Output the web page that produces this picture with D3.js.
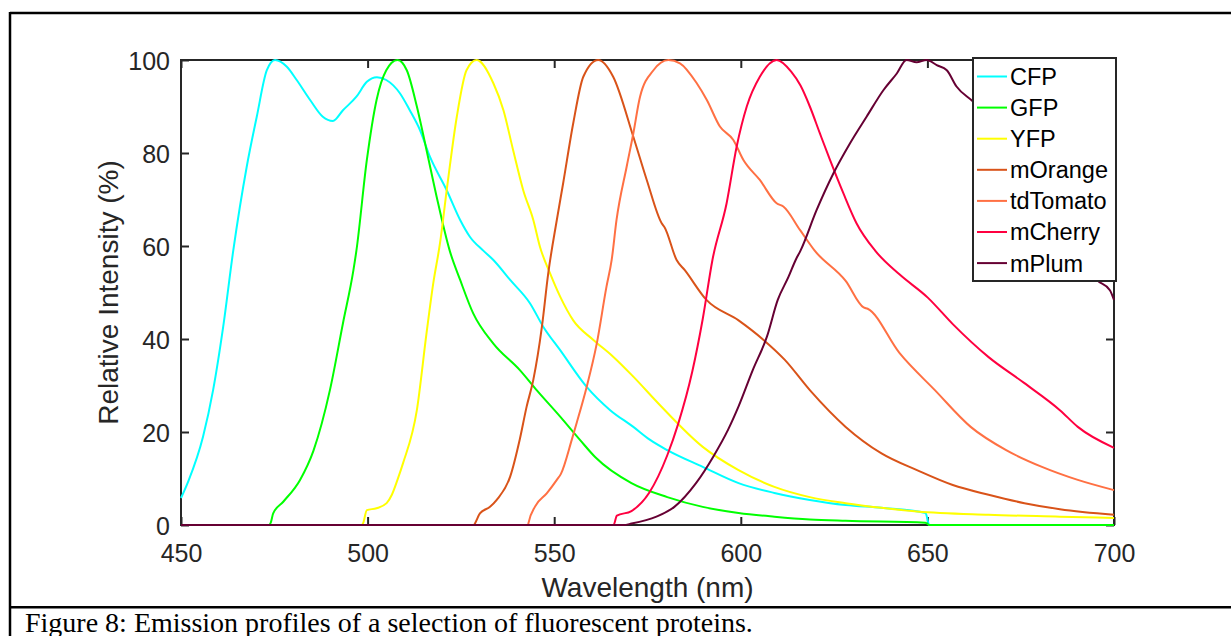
<!DOCTYPE html>
<html>
<head>
<meta charset="utf-8">
<script src="https://cdn.jsdelivr.net/npm/d3@7"></script>
<style>
  html, body { margin: 0; padding: 0; background: #fff; }
  svg { display: block; }
</style>
</head>
<body>
<svg id="chart" width="1231" height="636"></svg>
<script>
// emission spectra, [wavelength nm, relative intensity %]
const cfp = [[450,5.8],[452,9.5],[455.9,19],[458.6,29],[461.3,42.6],[464,59],[467.6,77],[470.3,87.8],[473,97.8],[475.2,100],
  [478.3,98.6],[481,95.7],[484.6,91.4],[488,87.8],[490.7,86.9],[493.4,89.2],[497,92.1],[499.8,95.3],[502.5,96.3],[505,95.7],
  [508.7,92.8],[511.3,89.2],[514,85],[516.7,79.2],[521.2,72],[524.8,65.6],[527.4,62],[531,59],[533.7,57],[538.2,52.7],
  [543.5,47.7],[547.1,42.6],[551.6,37.6],[558.7,29.7],[565,24.7],[571.2,21.1],[575.7,18.3],[580.3,16.1],[589.8,12.5],
  [599.4,9.0],[609,6.9],[618.5,5.4],[628.1,4.3],[637.7,3.7],[649.5,2.6],[650.5,0],[700,0]];
const gfp = [[450,0],[473.5,0],[474,0.4],[474.7,2.5],[477.4,5],[481.9,9.7],[485.5,16],[489.9,29],[493.4,43.4],[496.2,54.8],
  [497,59],[499.8,78.5],[502.4,91.4],[505,97.8],[508,100],[510.5,97.8],[513.2,90],[515.8,80.6],[518.5,70.6],[522,59],
  [524.8,52.7],[528.3,45.5],[533.7,39],[540.8,33.3],[545.3,29],[551.6,23.3],[556.9,18.3],[561.1,14.5],[570.7,9],
  [580.3,6],[589.8,3.9],[599.4,2.6],[609,1.8],[618.5,1.2],[628.1,0.9],[649.5,0.5],[650.5,0],[700,0]];
const yfp = [[450,0],[498.5,0],[498.8,0.4],[499.8,3.2],[502.4,3.6],[505.1,4.7],[506.5,6.5],[508,9.7],[509.5,13.3],[513.2,24.7],
  [515.8,41.3],[517.6,52],[519.4,60.6],[521.2,72],[523.9,87.8],[526.5,97.8],[529.2,100],[533.7,95],[536.4,89.2],[539,80.6],
  [541.7,72],[544.4,65.6],[546.2,59.8],[548.9,54.1],[551.6,49.1],[555.1,44],[560.5,39.8],[565.8,36.2],[571.2,31.9],
  [578.3,25.8],[589.8,16.8],[599.4,11.8],[609,8.2],[618.5,6],[628.1,4.7],[637.7,3.7],[647.2,2.9],[666.4,2.2],
  [685.5,1.8],[700,1.5]];
const mOrange = [[450,0],[528.5,0],[528.8,0.4],[530.1,2.5],[532.8,3.9],[534.6,5.4],[538.2,10.4],[540.8,18.5],[542.6,25.4],
  [544.4,31.2],[546.7,42.6],[548.4,54.1],[550.7,65.6],[552.4,73.5],[555.1,86.4],[557.8,96.4],[561.8,100],[565.8,96.4],
  [571.2,83.5],[574.8,74.2],[578.8,64.9],[579.6,64],[582.8,57],[585,54.8],[590.8,48.4],[599.4,44],[606.1,39.8],[611.8,35.5],
  [618.5,29],[628.1,21.1],[637.7,15.4],[647.2,11.8],[656.8,8.6],[666.4,6.5],[676,4.7],[685.5,3.4],[700,2.2]];
const tdTomato = [[450,0],[543,0],[543.1,0.4],[544.9,4],[548,6.8],[550.7,9.7],[551.8,11],[554.7,18.3],[556,21.9],[558.7,29.7],
  [561.4,39],[564,51.2],[565.4,57],[566.7,65.6],[569.4,77],[571.2,84.2],[573,92.1],[576.6,97.8],[580.6,100],[583.7,99.3],
  [588.2,95],[590.9,91.4],[594.4,85.7],[598,82.8],[600.7,78.5],[605.1,74.2],[609.6,69.2],[611.4,68.5],[615.9,63.4],
  [619.8,59],[628.1,52.5],[632.9,46.8],[634,46.5],[642.5,37],[652,29],[661.6,21.1],[671.1,16.1],[680.7,12.5],[690.3,9.7],
  [700,7.5]];
const mCherry = [[450,0],[565.9,0],[566.8,2],[570.7,3],[575.5,7],[580.3,15],[583.2,21.7],[587,33],[589.8,44.3],[592.4,57],
  [596.2,69.2],[598.9,81.4],[601.6,90],[605.1,96.4],[609.6,100],[613.5,97.5],[616,94.5],[618.5,90],[621.2,84.2],
  [623.9,78.5],[627.5,71.3],[631,64.9],[636,59],[642.5,53.9],[650.1,48.9],[656.8,43.2],[666.4,36.1],[676,30.5],
  [685.5,24.7],[690.3,21.1],[700,16.6]];
const mPlum = [[450,0],[568.6,0],[570.7,0.3],[577.4,1.8],[582.2,3.9],[588,9],[592.7,14.8],[596.6,20.5],[599.4,25.5],[603.2,33.3],
  [607,40.5],[609.9,48.4],[612.8,53.4],[614.7,57],[616,59],[620.3,67.7],[624.8,75.6],[629.2,82],[633.7,87.8],[638.2,93.5],
  [641.8,97.1],[644.4,100],[647.1,99.5],[649.8,100],[652.5,98.9],[655.2,97.8],[657.8,94.3],[662.3,91],[670,84],[680,72],
  [690,60],[695.4,52.7],[698.9,50.5],[700,48.4]];

const names = ['CFP','GFP','YFP','mOrange','tdTomato','mCherry','mPlum'];
const colors = ['#00ffff','#00ff00','#ffff00','#d95319','#ff7043','#ff0040','#660033'];
const xTicks = [450,500,550,600,650,700];
const yTicks = [0,20,40,60,80,100];

const seriesList = [cfp, gfp, yfp, mOrange, tdTomato, mCherry, mPlum];

function drawChart(){
    const svg = d3.select('#chart');
    const margin = { top: 60, bottom: 111, left: 181, right: 117 };
    const width = +svg.attr('width');
    const height = +svg.attr('height');
    const innerWidth = width - margin.left - margin.right;
    const innerHeight = height - margin.top - margin.bottom;
    const axisColor = '#262626';
    const font = 'Liberation Sans, Arial, Helvetica, sans-serif';

    // page frame + caption
    svg.append('line').attr('x1',10).attr('x2',width).attr('y1',13).attr('y2',13)
        .attr('stroke','#000').attr('stroke-width',2.5);
    svg.append('line').attr('x1',10).attr('x2',10).attr('y1',12).attr('y2',height)
        .attr('stroke','#000').attr('stroke-width',2.5);
    svg.append('line').attr('x1',10).attr('x2',width).attr('y1',607.3).attr('y2',607.3)
        .attr('stroke','#000').attr('stroke-width',2.5);
    svg.append('text')
        .attr('x',25).attr('y',631.5)
        .style('font-family','Liberation Serif, Times New Roman, serif')
        .style('font-size','28px')
        .attr('fill','#000')
        .text('Figure 8: Emission profiles of a selection of fluorescent proteins.');

    const x = d3.scaleLinear().domain([450,700]).range([0,innerWidth]);
    const y = d3.scaleLinear().domain([0,100]).range([innerHeight,0]);

    const g = svg.append('g').attr('transform',`translate(${margin.left},${margin.top})`);

    // axes, ticks inside on all four sides (matlab box on)
    const xAxis = g.append('g').attr('transform',`translate(0,${innerHeight})`)
        .call(d3.axisBottom(x).tickValues(xTicks).tickSizeInner(-8).tickSizeOuter(0).tickPadding(19));
    const xTop = g.append('g')
        .call(d3.axisTop(x).tickValues(xTicks).tickSizeInner(-8).tickSizeOuter(0).tickFormat(''));
    const yAxis = g.append('g')
        .call(d3.axisLeft(y).tickValues(yTicks).tickSizeInner(-8).tickSizeOuter(0).tickPadding(11));
    const yRight = g.append('g').attr('transform',`translate(${innerWidth},0)`)
        .call(d3.axisRight(y).tickValues(yTicks).tickSizeInner(-8).tickSizeOuter(0).tickFormat(''));

    [xAxis, xTop, yAxis, yRight].forEach(a => {
        a.select('.domain').remove();
        a.selectAll('line').attr('stroke',axisColor).attr('stroke-width',2);
        a.selectAll('text').attr('fill',axisColor).style('font-family',font).style('font-size','25px');
    });
    yAxis.selectAll('text').attr('dy','0.36em');

    g.append('rect')
        .attr('x',0).attr('y',0).attr('width',innerWidth).attr('height',innerHeight)
        .attr('fill','none').attr('stroke',axisColor).attr('stroke-width',2);

    // axis titles
    g.append('text')
        .attr('x',innerWidth/2).attr('y',innerHeight+72)
        .attr('text-anchor','middle')
        .style('font-family',font).style('font-size','28px')
        .attr('fill',axisColor)
        .text('Wavelength (nm)');
    g.append('text')
        .attr('transform',`translate(${118-margin.left},${innerHeight/2}) rotate(-90)`)
        .attr('text-anchor','middle')
        .style('font-family',font).style('font-size','28px')
        .attr('fill',axisColor)
        .text('Relative Intensity (%)');

    // spectra
    const line = d3.line()
        .x(d => x(d[0]))
        .y(d => y(d[1]))
        .curve(d3.curveMonotoneX);

    g.selectAll('path.spectrum')
        .data(seriesList)
        .join('path')
        .attr('class','spectrum')
        .attr('d', line)
        .attr('fill','none')
        .attr('stroke', (d,i) => colors[i])
        .attr('stroke-width',2)
        .attr('stroke-linejoin','round');

    // legend
    const legend = svg.append('g').attr('transform','translate(973,58)');
    legend.append('rect')
        .attr('width',143).attr('height',223)
        .attr('fill','#fff').attr('stroke',axisColor).attr('stroke-width',2);
    const rows = legend.selectAll('g.row')
        .data(names)
        .join('g')
        .attr('class','row')
        .attr('transform',(d,i) => `translate(0,${18.5 + i*31.1})`);
    rows.append('line')
        .attr('x1',4).attr('x2',34).attr('y1',0).attr('y2',0)
        .attr('stroke',(d,i) => colors[i]).attr('stroke-width',2);
    rows.append('text')
        .attr('x',37).attr('y',0).attr('dy','0.36em')
        .style('font-family',font).style('font-size','23.5px')
        .attr('fill','#000')
        .text(d => d);
}

drawChart();
</script>
</body>
</html>
